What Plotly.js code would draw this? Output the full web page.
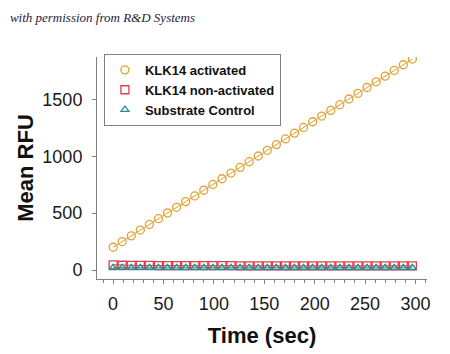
<!DOCTYPE html>
<html>
<head>
<meta charset="utf-8">
<script src="https://cdn.plot.ly/plotly-3.0.1.min.js"></script>
<style>html,body{margin:0;padding:0;background:#fff}#chart{width:450px;height:354px}</style>
</head>
<body>
<div id="chart"></div>
<script>
var timeSec = [0, 9, 18, 27, 36, 45, 54, 63, 72, 81, 90, 99, 108, 117, 126, 135, 144, 153, 162, 171, 180, 189, 198, 207, 216, 225, 234, 243, 252, 261, 270, 279, 288, 297];
var klk14Activated = [200, 250, 300, 351, 401, 451, 501, 551, 601, 651, 701, 752, 802, 852, 902, 952, 1002, 1052, 1102, 1152, 1203, 1253, 1303, 1353, 1403, 1453, 1503, 1553, 1604, 1654, 1704, 1754, 1804, 1854];
var klk14NonActivated = [46, 42, 41, 40, 40, 39, 39, 39, 38, 38, 38, 38, 38, 38, 37, 37, 37, 37, 37, 37, 37, 37, 37, 37, 37, 37, 37, 37, 37, 37, 37, 37, 37, 37];
var substrateControl = [20, 20, 20, 20, 20, 20, 20, 20, 20, 20, 20, 20, 20, 20, 20, 20, 20, 20, 20, 20, 20, 20, 20, 20, 20, 20, 20, 20, 20, 20, 20, 20, 20, 20];
var seriesNames = ["KLK14 activated", "KLK14 non-activated", "Substrate Control"];
var xTickVals = [0, 50, 100, 150, 200, 250, 300];
var yTickVals = [0, 500, 1000, 1500];

var cOrange = "#E2A232", cRed = "#D4434F", cTeal = "#2F8A8E";
function lineTrace(y, c){return {x: timeSec, y: y, mode: "lines", line: {color: c, width: 1}, showlegend: false, hoverinfo: "skip"};}
function markTrace(y, c, sym, name, sz){return {x: timeSec, y: y, mode: "markers", name: name, marker: {symbol: sym, size: sz, color: c, line: {color: c, width: 1.3}}};}

var data = [
  lineTrace(substrateControl, cTeal),
  lineTrace(klk14NonActivated, cRed),
  lineTrace(klk14Activated, cOrange),
  markTrace(klk14Activated, cOrange, "circle-open", seriesNames[0], 8),
  markTrace(klk14NonActivated, cRed, "square-open", seriesNames[1], 8),
  markTrace(substrateControl, cTeal, "triangle-up-open", seriesNames[2], 7)
];

var layout = {
  width: 450, height: 354,
  margin: {l: 97, r: 23, t: 57, b: 75},
  paper_bgcolor: "#fff", plot_bgcolor: "#fff",
  font: {family: "Liberation Sans, Arial, sans-serif", color: "#1a1a1a"},
  title: {text: "<i>with permission from R&amp;D Systems</i>", x: 0.022, xanchor: "left", xref: "container", y: 0.952, yref: "container", yanchor: "middle", font: {family: "Liberation Serif, serif", size: 13, color: "#1c2340"}},
  xaxis: {range: [-16, 311.5], showline: true, linecolor: "#808080", linewidth: 1, showgrid: false, zeroline: false,
    tickmode: "array", tickvals: xTickVals, ticks: "outside", ticklen: 4, tickcolor: "#808080",
    minor: {dtick: 10, tick0: 0, ticks: "outside", ticklen: 3, tickcolor: "#808080", showgrid: false},
    tickfont: {size: 18, color: "#1a1a1a"}, ticklabelstandoff: 4,
    title: {text: "<b>Time (sec)</b>", font: {size: 22, color: "#111"}, standoff: 15}},
  yaxis: {range: [-79, 1872], showline: true, linecolor: "#808080", linewidth: 1, showgrid: false, zeroline: false,
    tickmode: "array", tickvals: yTickVals, ticks: "outside", ticklen: 4, tickcolor: "#808080",
    tickfont: {size: 18, color: "#1a1a1a"}, ticklabelstandoff: 6,
    title: {text: "<b>Mean RFU</b>", font: {size: 22, color: "#111"}, standoff: 2}},
  legend: {x: 0.021, y: 1.014, xanchor: "left", yanchor: "top", bgcolor: "#fff", bordercolor: "#808080", borderwidth: 1,
    font: {size: 13, color: "#111", weight: "bold"}, tracegroupgap: 0, itemwidth: 30},
  showlegend: true
};
Plotly.newPlot("chart", data, layout, {staticPlot: true, displayModeBar: false});
</script>
</body>
</html>
